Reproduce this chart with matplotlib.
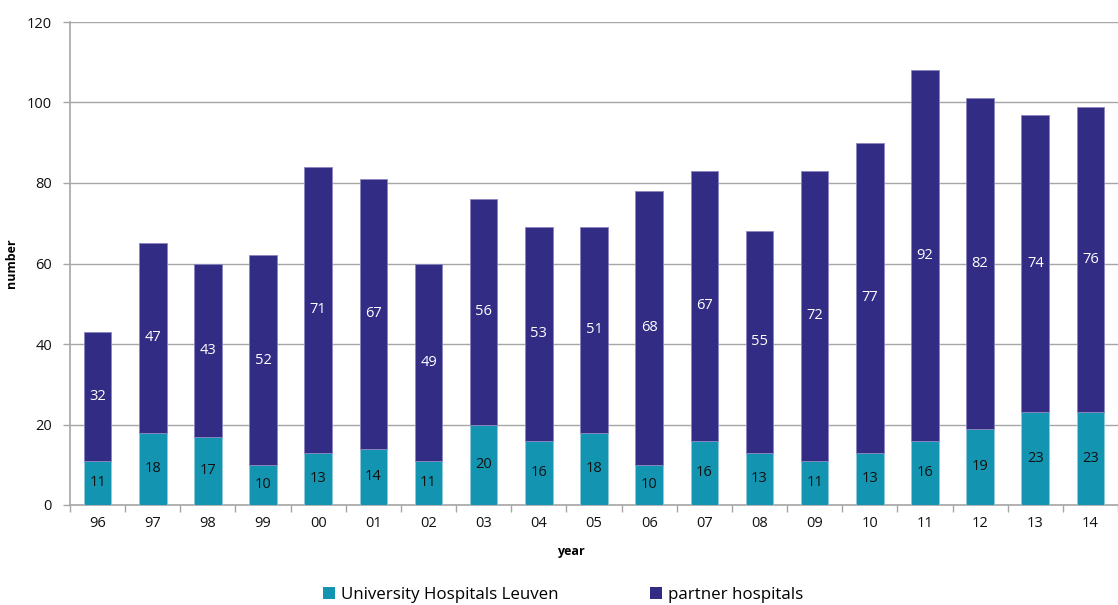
import matplotlib
matplotlib.use("Agg")
import matplotlib.pyplot as plt
from matplotlib.patches import Patch

years = ["96", "97", "98", "99", "00", "01", "02", "03", "04", "05",
         "06", "07", "08", "09", "10", "11", "12", "13", "14"]
leuven = [11, 18, 17, 10, 13, 14, 11, 20, 16, 18, 10, 16, 13, 11, 13, 16, 19, 23, 23]
partner = [32, 47, 43, 52, 71, 67, 49, 56, 53, 51, 68, 67, 55, 72, 77, 92, 82, 74, 76]

teal = "#1395B2"
navy = "#332C85"
grid_c = "#A6A6A6"

plt.rcParams["font.family"] = ["Open Sans", "DejaVu Sans"]

fig = plt.figure(figsize=(11.18, 6.05), dpi=100)
W, H = 1118, 605
ax = fig.add_axes([70 / W, 1 - 505 / H, (1118 - 70) / W, (505 - 22) / H])

x = list(range(len(years)))
ax.bar(x, leuven, width=0.5, color=teal, edgecolor="#8FC9DA", linewidth=0.6, zorder=3)
ax.bar(x, partner, width=0.5, bottom=leuven, color=navy, edgecolor="#8A86BF",
       linewidth=0.6, zorder=3)

for i in x:
    ax.text(i, leuven[i] / 2, str(leuven[i]), ha="center", va="center",
            fontsize=10.5, color="#111111", zorder=4)
    ax.text(i, leuven[i] + partner[i] / 2, str(partner[i]), ha="center", va="center",
            fontsize=10.5, color="white", zorder=4)

ax.set_xlim(-0.5, 18.32)
ax.set_ylim(0, 120)
ax.set_yticks(range(0, 121, 20))
ax.yaxis.grid(True, color=grid_c, linewidth=1.0, zorder=0)
ax.set_axisbelow(True)

# category labels centred under bars, tick marks between categories
ax.set_xticks(x)
ax.set_xticklabels(years, fontsize=10.5, color="#111111")
ax.tick_params(axis="x", which="major", length=0, pad=8)
ax.set_xticks([i - 0.5 for i in range(len(years) + 1)], minor=True)
ax.tick_params(axis="x", which="minor", length=5, color=grid_c, width=1.0)
ax.tick_params(axis="y", length=5, color=grid_c, width=1.0, labelsize=10.5,
               labelcolor="#111111", pad=8)

for s in ["top", "right"]:
    ax.spines[s].set_visible(False)
for s in ["left", "bottom"]:
    ax.spines[s].set_color(grid_c)
    ax.spines[s].set_linewidth(1.2)

ax.set_xlabel("year", fontsize=9, fontweight="bold")
ax.xaxis.set_label_coords((571 - 70) / 1048, -40 / 483)
ax.set_ylabel("number", fontsize=9, fontweight="bold")
ax.yaxis.set_label_coords(-52 / 1048, 0.5)

handles = [Patch(facecolor=teal, label="University Hospitals Leuven"),
           Patch(facecolor=navy, label="partner hospitals")]
fig.legend(handles=handles, loc="center", bbox_to_anchor=(563 / W, 1 - 595 / H),
           ncol=2, frameon=False, fontsize=12.2, handlelength=0.7, handleheight=0.7,
           handletextpad=0.35, columnspacing=5.4)

fig.savefig("out.png", dpi=100)
